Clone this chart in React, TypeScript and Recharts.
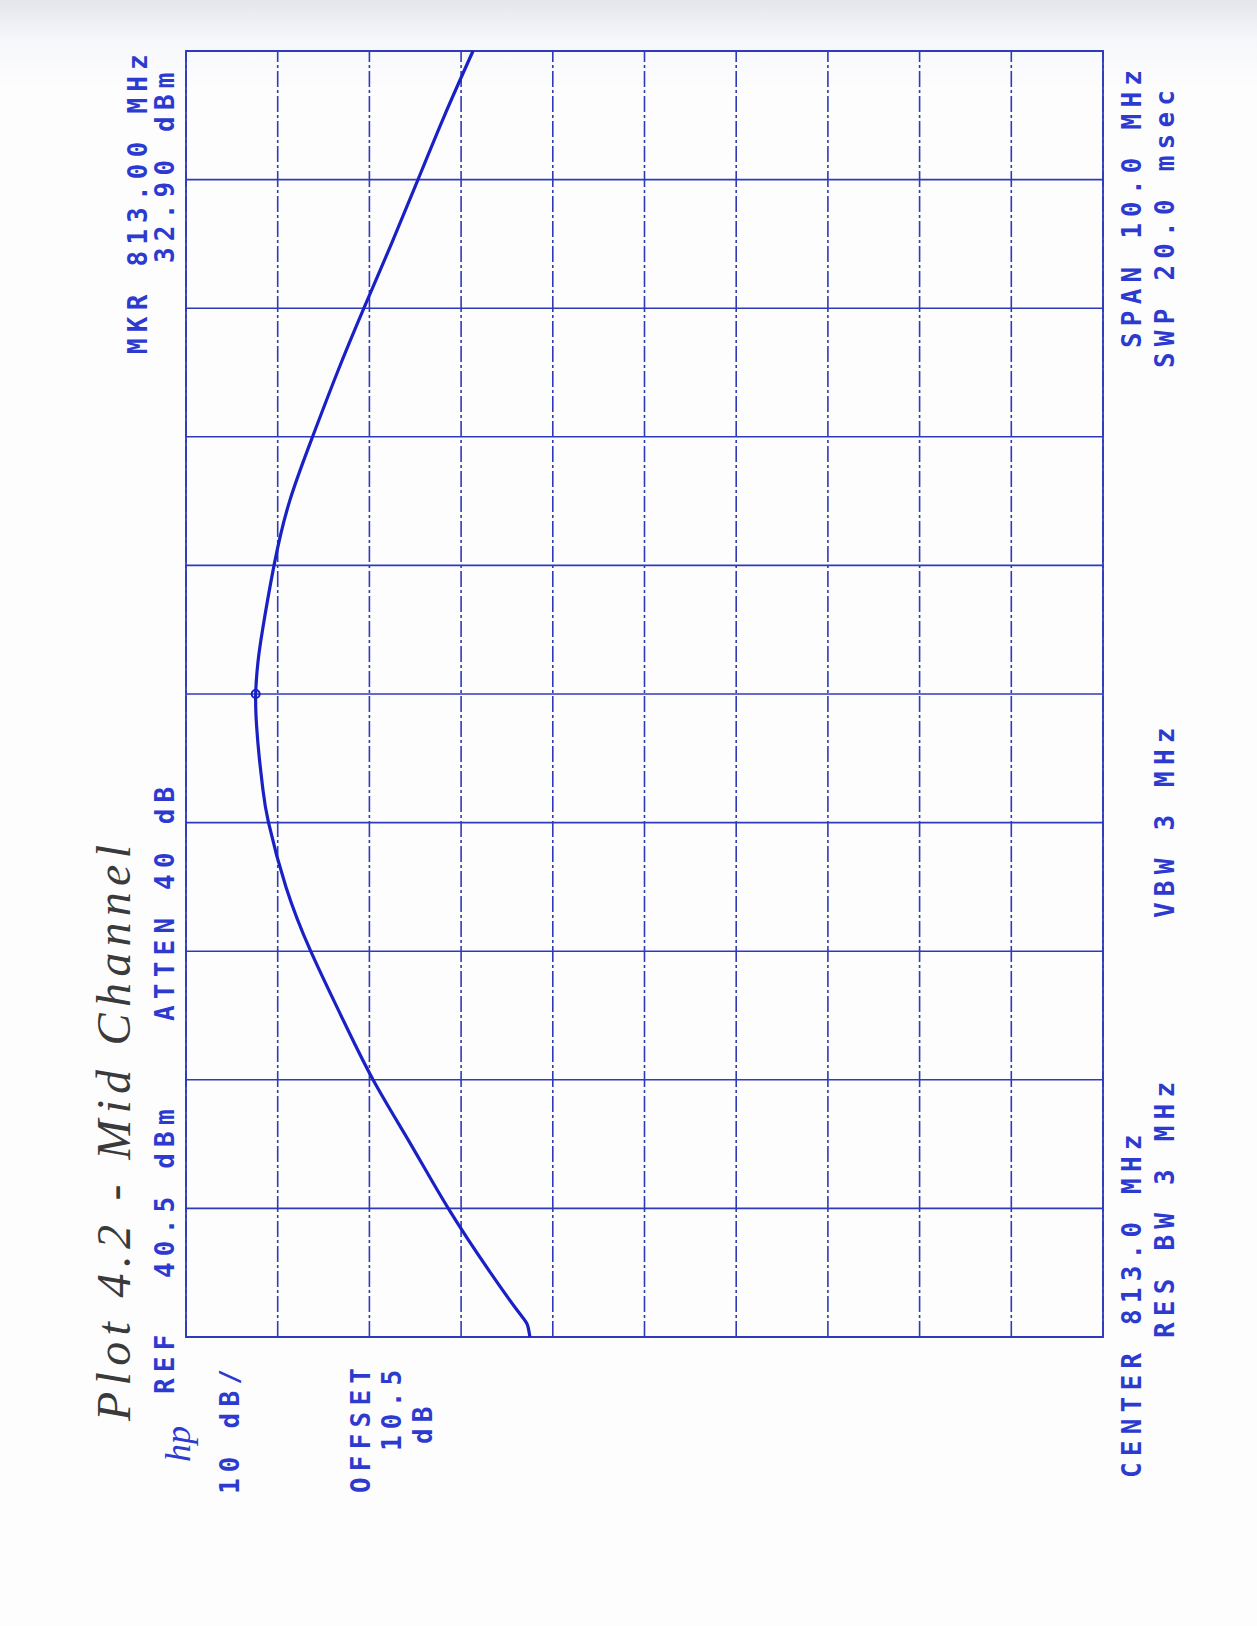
import React from 'react';
import { LineChart, Line, XAxis, YAxis, CartesianGrid, ReferenceDot, ReferenceArea } from 'recharts';

// page is portrait, the analyzer plot is drawn landscape and turned -90deg
const PAGE_W = 1257;
const PAGE_H = 1626;

const freqMHz = [
  808, 808.1, 808.2, 808.5, 809, 809.5, 810, 810.5, 811, 811.5, 812, 812.25,
  812.5, 812.75, 813, 813.25, 813.5, 814, 814.5, 815, 815.5, 816, 816.5, 817,
  817.5, 818,
];
const levelDbm = [
  3.0, 3.3, 4.3, 7.3, 11.9, 16.0, 20.1, 23.6, 26.9, 29.6, 31.5, 32.1,
  32.5, 32.8, 32.9, 32.65, 32.15, 30.9, 29.2, 26.7, 24.0, 21.1, 18.1, 15.2,
  12.3, 9.2,
];
const freqTicks = [808, 809, 810, 811, 812, 813, 814, 815, 816, 817, 818];
const levelTicks = [40.5, 30.5, 20.5, 10.5, 0.5, -9.5, -19.5, -29.5, -39.5, -49.5, -59.5];
const markerFreq = 813.0;
const markerLevel = 32.9;

const data = freqMHz.map((f, i) => ({ freq: f, level: levelDbm[i] }));

const INK = '#2c3ad0';
const GRID = '#2f3abb';
const TRACE = '#1a21c4';

// annotation text, landscape coords: u = start, v = baseline
const labels = [
  { text: 'MKR 813.00 MHz', u: 1272, v: 147 },
  { text: '32.90 dBm', u: 1363, v: 174 },
  { text: 'REF', u: 232, v: 174 },
  { text: '40.5 dBm', u: 348, v: 174 },
  { text: 'ATTEN 40 dB', u: 605, v: 174 },
  { text: '10 dB/', u: 132, v: 239 },
  { text: 'OFFSET', u: 133, v: 370 },
  { text: '10.5', u: 175, v: 401 },
  { text: 'dB', u: 182, v: 432 },
  { text: 'CENTER 813.0 MHz', u: 148, v: 1141 },
  { text: 'SPAN 10.0 MHz', u: 1278, v: 1141 },
  { text: 'RES BW 3 MHz', u: 288, v: 1174 },
  { text: 'VBW 3 MHz', u: 708, v: 1174 },
  { text: 'SWP 20.0 msec', u: 1258, v: 1174 },
];

export default function App() {
  return (
    <div
      style={{
        position: 'absolute',
        left: 0,
        top: 0,
        width: PAGE_W,
        height: PAGE_H,
        overflow: 'hidden',
        background: 'linear-gradient(to bottom, #e4e6ec 0px, #f6f7fa 40px, #fdfdfe 90px)',
      }}
    >
      <div
        style={{
          position: 'absolute',
          left: 0,
          top: 0,
          width: PAGE_H,
          height: PAGE_W,
          transformOrigin: '0 0',
          transform: `translate(0px, ${PAGE_H}px) rotate(-90deg)`,
        }}
      >
        <LineChart
          width={PAGE_H}
          height={PAGE_W}
          data={data}
          margin={{ top: 186, right: 51, bottom: 154, left: 289 }}
        >
          <XAxis
            type="number"
            dataKey="freq"
            domain={[808, 818]}
            ticks={freqTicks}
            interval={0}
            hide
          />
          <YAxis
            type="number"
            domain={[-59.5, 40.5]}
            ticks={levelTicks}
            interval={0}
            hide
          />
          <CartesianGrid horizontal={false} stroke={GRID} strokeWidth={1.6} />
          <CartesianGrid vertical={false} stroke={GRID} strokeWidth={1.6} strokeDasharray="16 3 3 3" />
          <ReferenceArea
            x1={808}
            x2={818}
            y1={-59.5}
            y2={40.5}
            fill="none"
            fillOpacity={0}
            stroke={GRID}
            strokeWidth={1.8}
            ifOverflow="visible"
          />
          <Line
            type="natural"
            dataKey="level"
            stroke={TRACE}
            strokeWidth={3.2}
            dot={false}
            isAnimationActive={false}
          />
          <ReferenceDot
            x={markerFreq}
            y={markerLevel}
            r={4}
            fill="none"
            stroke={TRACE}
            strokeWidth={2}
          />
        </LineChart>
        <svg
          width={PAGE_H}
          height={PAGE_W}
          style={{ position: 'absolute', left: 0, top: 0, pointerEvents: 'none' }}
        >
          <text
            x={205}
            y={130}
            fontFamily="'Liberation Serif', 'DejaVu Serif', serif"
            fontStyle="italic"
            fontSize={48}
            fill="#3a3a3a"
            textLength={576}
            lengthAdjust="spacing"
          >
            Plot 4.2 - Mid Channel
          </text>
          <text
            x={164}
            y={190}
            fontFamily="'Liberation Serif', serif"
            fontStyle="italic"
            fontSize={36}
            fill={INK}
          >
            hp
          </text>
          {labels.map((l) => (
            <text
              key={l.text}
              x={l.u}
              y={l.v}
              fontFamily="'DejaVu Sans Mono', monospace"
              fontSize={26}
              fontWeight="bold"
              letterSpacing={6.2}
              fill={INK}
            >
              {l.text}
            </text>
          ))}
        </svg>
      </div>
    </div>
  );
}
